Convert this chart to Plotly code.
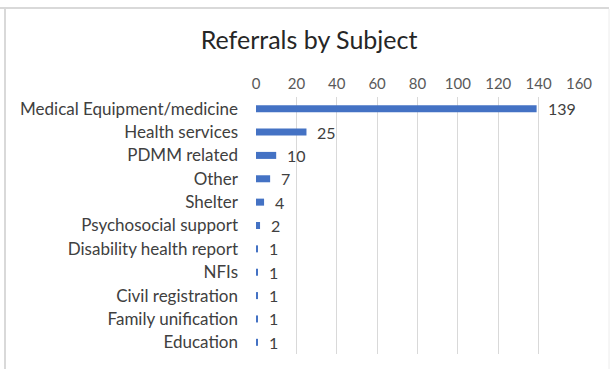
import plotly.graph_objects as go

categories = ["Medical Equipment/medicine", "Health services", "PDMM related", "Other",
              "Shelter", "Psychosocial support", "Disability health report", "NFIs",
              "Civil registration", "Family unification", "Education"]
values = [139, 25, 10, 7, 4, 2, 1, 1, 1, 1, 1]
tick_vals = [0, 20, 40, 60, 80, 100, 120, 140, 160]

FONT = "Lato"

fig = go.Figure()
fig.add_trace(go.Bar(
    x=values, y=categories, orientation="h",
    marker=dict(color="#4472C4", line=dict(width=0)),
    width=0.3, hoverinfo="skip",
))
for c, v in zip(categories, values):
    fig.add_annotation(x=v, y=c, text=str(v), showarrow=False, xanchor="left",
                       xshift=9, font=dict(family=FONT, size=16, color="#404040"))

fig.update_layout(
    width=612, height=369,
    margin=dict(l=256, r=33, t=97, b=15),
    paper_bgcolor="white", plot_bgcolor="white",
    showlegend=False,
    title=dict(text="Referrals by Subject", x=0.505, xanchor="center", y=0.892, yanchor="middle",
               font=dict(family=FONT, size=25, color="#262626")),
    xaxis=dict(range=[0, 160], tickvals=tick_vals, side="top", showgrid=True,
               gridcolor="#d9d9d9", gridwidth=1, zeroline=False, showline=False,
               ticks="", ticklabelstandoff=4, automargin=False,
               tickfont=dict(family=FONT, size=15, color="#595959")),
    yaxis=dict(categoryorder="array", categoryarray=categories, autorange="reversed",
               showgrid=False, zeroline=False, showline=False, ticks="",
               ticklabelstandoff=17, automargin=False,
               tickfont=dict(family=FONT, size=17, color="#404040")),
)
# screenshot frame
fig.add_shape(type="line", xref="paper", yref="paper", x0=-256/323, x1=(609-256)/323,
              y0=1+(97-8)/257, y1=1+(97-8)/257, line=dict(color="#d9d9d9", width=2))
fig.add_shape(type="line", xref="paper", yref="paper", x0=(5-256)/323, x1=(5-256)/323,
              y0=-15/257, y1=1+(97-9)/257, line=dict(color="#d9d9d9", width=2))
fig.add_shape(type="line", xref="paper", yref="paper", x0=(609-256)/323, x1=(609-256)/323,
              y0=-15/257, y1=1+(97-9)/257, line=dict(color="#ececec", width=1))

fig.write_html("out.html", config={"displayModeBar": False},
               post_script="document.body.style.margin='0';")
